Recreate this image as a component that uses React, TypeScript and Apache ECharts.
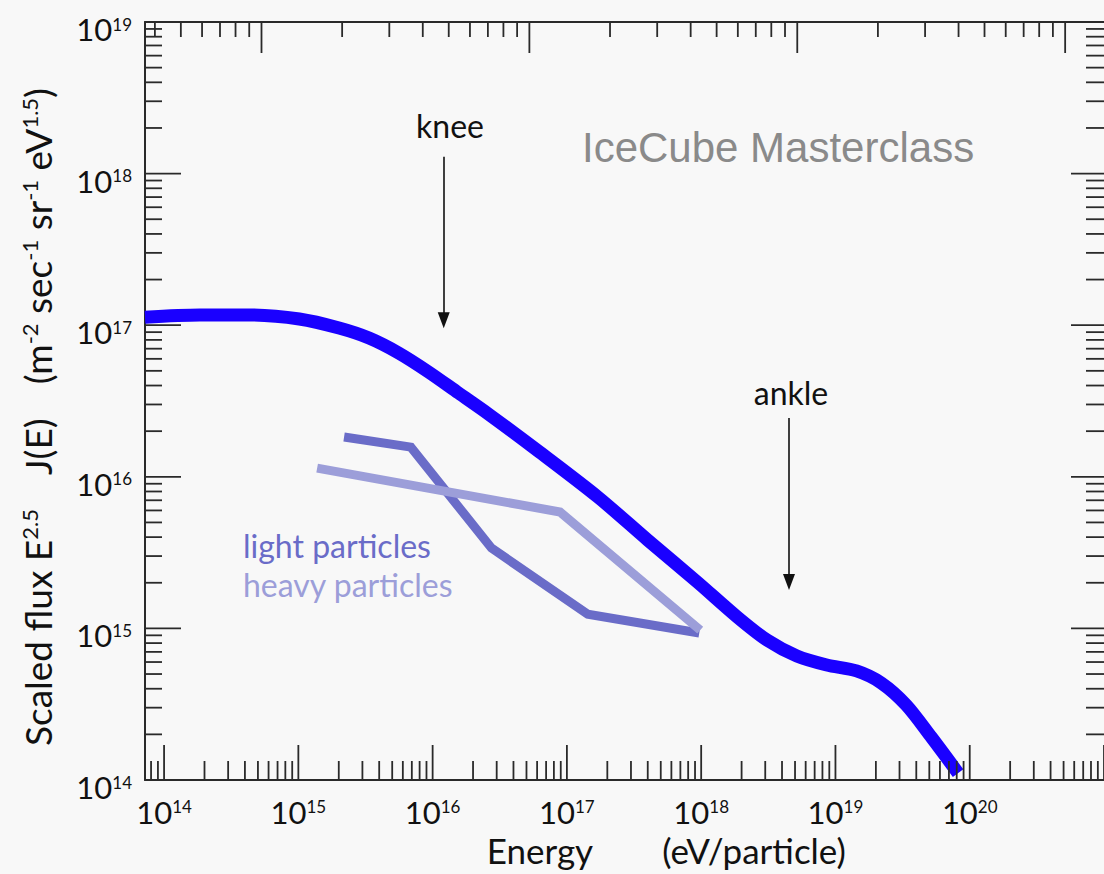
import React, { useEffect, useRef } from 'react';
import * as echarts from 'echarts';

const FONT = 'Lato, "Noto Sans", sans-serif';
const AXIS_COLOR = '#2a2a2a';

// Axis ranges (energy in eV, scaled flux)
const X_MIN = 7.21e13;
const X_MAX = 1e21;
const Y_MIN = 1e14;
const Y_MAX = 1e19;
// secondary (unlabelled) top scale
const TOP_MIN = 3.674;
const TOP_MAX = 13964;

// tick definitions
const TICK_MANTISSAS = [1, 2, 3, 4, 5, 6, 7, 8, 9];
const X_TICK_DECADES = [13, 14, 15, 16, 17, 18, 19, 20, 21];
const Y_TICK_DECADES = [14, 15, 16, 17, 18, 19];
const TOP_TICK_DECADES = [0, 1, 2, 3, 4];

// all-particle spectrum
const mainEnergy = [7.21e13, 1.845e14, 4.33e14, 1.017e15, 2.01e15, 3.36e15, 5.6e15, 9.35e15, 1.56e16, 2.6e16, 6.11e16, 1.7e17, 3.99e17, 9.37e17, 1.855e18, 3.09e18, 5.16e18, 8.61e18, 1.437e19, 2.2e19, 3.37e19, 5.17e19, 8.19e19];
const mainFlux = [1.13e17, 1.168e17, 1.168e17, 1.099e17, 9.58e16, 8.23e16, 6.55e16, 4.91e16, 3.57e16, 2.6e16, 1.48e16, 7.36e15, 3.83e15, 2.02e15, 1.19e15, 8.38e14, 6.58e14, 5.74e14, 5.24e14, 4.36e14, 3.12e14, 1.92e14, 1.11e14];

// light particles
const lightEnergy = [2.19e15, 6.89e15, 2.74e16, 1.43e17, 9.68e17];
const lightFlux = [1.83e16, 1.57e16, 3.39e15, 1.24e15, 9.33e14];

// heavy particles
const heavyEnergy = [1.38e15, 8.89e16, 9.84e17];
const heavyFlux = [1.14e16, 5.86e15, 9.75e14];

// annotations (arrows)
const annotationNames = ['knee', 'ankle'];
const annotationEnergy = [1.21e16, 4.51e18];
const annotationStart = [1.29e18, 2.44e16];
const annotationEnd = [1.08e17, 2.02e15];

const MAIN_COLOR = '#1a00ff';
const LIGHT_COLOR = '#6a6cc8';
const HEAVY_COLOR = '#9c9ed9';

function buildTicks(decades: number[], lo: number, hi: number) {
  const out: number[][] = [];
  decades.forEach((d) => {
    TICK_MANTISSAS.forEach((m) => {
      const v = m * Math.pow(10, d);
      if (v >= lo * 0.9999 && v <= hi * 1.0001) out.push([v, m === 1 ? 1 : 0]);
    });
  });
  return out;
}

function powLabel(v: number) {
  const lg = Math.log10(v);
  const n = Math.round(lg);
  if (Math.abs(lg - n) > 1e-6) return '';
  return '{b|10}{s|' + n + '}';
}

const labelRich = {
  b: { fontSize: 31, fontFamily: FONT, color: '#111' },
  s: { fontSize: 17, fontFamily: FONT, color: '#111', padding: [0, 0, 10, 0] },
};

function textStyle(text: string, size: number, color: string, align: string, family = FONT) {
  return {
    text,
    fontSize: size,
    fontFamily: family,
    fill: color,
    align,
    verticalAlign: 'middle',
    textAlign: align,
    textVerticalAlign: 'middle',
  };
}

export default function App() {
  const ref = useRef<HTMLDivElement>(null);

  useEffect(() => {
    document.body.style.margin = '0';
    document.body.style.overflow = 'hidden';
    if (!ref.current) return;
    const chart = echarts.init(ref.current, undefined, { renderer: 'svg' });

    const bottomTicks = buildTicks(X_TICK_DECADES, X_MIN, X_MAX);
    const sideTicks = buildTicks(Y_TICK_DECADES, Y_MIN, Y_MAX);
    const topTicks = buildTicks(TOP_TICK_DECADES, TOP_MIN, TOP_MAX);

    const tickStyle = { stroke: AXIS_COLOR, lineWidth: 1.8 };
    const ysub = { fontSize: 22, fontFamily: FONT, fill: '#111', color: '#111', padding: [0, 0, 16, 0] };
    const ymain = { fontSize: 37, fontFamily: FONT, fill: '#111', color: '#111' };

    const option: any = {
      animation: false,
      backgroundColor: '#f8f8f8',
      grid: { left: 145, right: -4, top: 22, bottom: 94, containLabel: false },
      xAxis: [
        {
          type: 'log',
          logBase: 10,
          min: X_MIN,
          max: X_MAX,
          position: 'bottom',
          axisLine: { show: true, lineStyle: { color: AXIS_COLOR, width: 2 } },
          axisTick: { show: false },
          minorTick: { show: false },
          splitLine: { show: false },
          axisLabel: {
            formatter: powLabel,
            margin: 16,
            rich: labelRich,
            showMinLabel: false,
            showMaxLabel: false,
          },
        },
        {
          type: 'log',
          logBase: 10,
          min: TOP_MIN,
          max: TOP_MAX,
          position: 'top',
          axisLine: { show: true, lineStyle: { color: AXIS_COLOR, width: 2 } },
          axisTick: { show: false },
          axisLabel: { show: false },
          splitLine: { show: false },
        },
      ],
      yAxis: [
        {
          type: 'log',
          logBase: 10,
          min: Y_MIN,
          max: Y_MAX,
          axisLine: { show: true, lineStyle: { color: AXIS_COLOR, width: 2 } },
          axisTick: { show: false },
          minorTick: { show: false },
          splitLine: { show: false },
          axisLabel: {
            formatter: powLabel,
            margin: 13,
            rich: labelRich,
            padding: [14, 0, 0, 0],
          },
        },
      ],
      graphic: [
        { type: 'text', x: 582, y: 147, style: textStyle('IceCube Masterclass', 42, '#8a8a8a', 'left', '"Liberation Sans", Arial, sans-serif') },
        { type: 'text', x: 450, y: 125, style: textStyle(annotationNames[0], 32, '#111', 'center') },
        { type: 'text', x: 791, y: 392, style: textStyle(annotationNames[1], 32, '#111', 'center') },
        { type: 'text', x: 243, y: 545, style: textStyle('light particles', 32, LIGHT_COLOR, 'left') },
        { type: 'text', x: 243, y: 584, style: textStyle('heavy particles', 32, HEAVY_COLOR, 'left') },
        { type: 'text', x: 540, y: 850, style: textStyle('Energy', 35, '#111', 'center') },
        { type: 'text', x: 754, y: 850, style: textStyle('(eV/particle)', 35, '#111', 'center') },
        {
          type: 'text',
          x: 37,
          y: 417,
          rotation: Math.PI / 2,
          style: {
            text: '{t|Scaled flux E}{s|2.5}{j|J(E)}{u|(m}{s|-2}{t| sec}{s|-1}{t| sr}{s|-1}{t| eV}{s|1.5}{t|)}',
            fontSize: 37,
            fontFamily: FONT,
            fill: '#111',
            align: 'center',
            verticalAlign: 'middle',
            textAlign: 'center',
            textVerticalAlign: 'middle',
            rich: {
              t: ymain,
              s: ysub,
              j: { ...ymain, padding: [0, 0, 0, 34] },
              u: { ...ymain, padding: [0, 0, 0, 34] },
            },
          },
        },
      ],
      series: [
        {
          name: 'light particles',
          type: 'line',
          data: lightEnergy.map((e, i) => [e, lightFlux[i]]),
          symbol: 'none',
          lineStyle: { color: LIGHT_COLOR, width: 9, cap: 'butt', join: 'miter' },
          itemStyle: { color: LIGHT_COLOR },
          z: 3,
        },
        {
          name: 'heavy particles',
          type: 'line',
          data: heavyEnergy.map((e, i) => [e, heavyFlux[i]]),
          symbol: 'none',
          lineStyle: { color: HEAVY_COLOR, width: 9, cap: 'butt', join: 'miter' },
          itemStyle: { color: HEAVY_COLOR },
          z: 4,
        },
        {
          name: 'all particles',
          type: 'line',
          data: mainEnergy.map((e, i) => [e, mainFlux[i]]),
          symbol: 'none',
          smooth: 0.3,
          lineStyle: { color: MAIN_COLOR, width: 13, cap: 'butt', join: 'round' },
          itemStyle: { color: MAIN_COLOR },
          z: 5,
          markLine: {
            silent: true,
            animation: false,
            symbol: ['none', 'triangle'],
            symbolSize: [12, 16],
            label: { show: false },
            lineStyle: { color: '#111', width: 1.6, type: 'solid' },
            data: annotationEnergy.map((e, i) => [
              { coord: [e, annotationStart[i]], symbol: 'none' },
              { coord: [e, annotationEnd[i]], symbol: 'triangle', symbolSize: [12, 16] },
            ]),
          },
        },
        {
          name: 'xTicks',
          type: 'custom',
          xAxisIndex: 0,
          yAxisIndex: 0,
          silent: true,
          clip: false,
          z: 10,
          data: bottomTicks.map((t) => [t[0], Y_MIN, t[1]]),
          encode: { x: 0, y: 1 },
          renderItem: (params: any, api: any) => {
            const cs = params.coordSys;
            const p = api.coord([api.value(0), Y_MIN]);
            const len = api.value(2) ? 35 : 19;
            const yb = cs.y + cs.height;
            return { type: 'line', shape: { x1: p[0], y1: yb, x2: p[0], y2: yb - len }, style: tickStyle };
          },
        },
        {
          name: 'yTicks',
          type: 'custom',
          xAxisIndex: 0,
          yAxisIndex: 0,
          silent: true,
          clip: false,
          z: 10,
          data: sideTicks.map((t) => [X_MIN, t[0], t[1]]),
          encode: { x: 0, y: 1 },
          renderItem: (params: any, api: any) => {
            const cs = params.coordSys;
            const p = api.coord([X_MIN, api.value(1)]);
            const major = api.value(2);
            const lenL = major ? 36 : 17;
            const lenR = major ? 33 : 18;
            const xl = cs.x;
            const xr = cs.x + cs.width;
            return {
              type: 'group',
              children: [
                { type: 'line', shape: { x1: xl, y1: p[1], x2: xl + lenL, y2: p[1] }, style: tickStyle },
                { type: 'line', shape: { x1: xr, y1: p[1], x2: xr - lenR, y2: p[1] }, style: tickStyle },
              ],
            };
          },
        },
        {
          name: 'topTicks',
          type: 'custom',
          xAxisIndex: 1,
          yAxisIndex: 0,
          silent: true,
          clip: false,
          z: 10,
          data: topTicks.map((t) => [t[0], Y_MAX, t[1]]),
          encode: { x: 0, y: 1 },
          renderItem: (params: any, api: any) => {
            const cs = params.coordSys;
            const p = api.coord([api.value(0), Y_MAX]);
            const len = api.value(2) ? 31 : 15;
            const yt = cs.y;
            return { type: 'line', shape: { x1: p[0], y1: yt, x2: p[0], y2: yt + len }, style: tickStyle };
          },
        },
      ],
    };

    chart.setOption(option);
    return () => chart.dispose();
  }, []);

  return <div ref={ref} style={{ width: 1104, height: 874 }} />;
}
